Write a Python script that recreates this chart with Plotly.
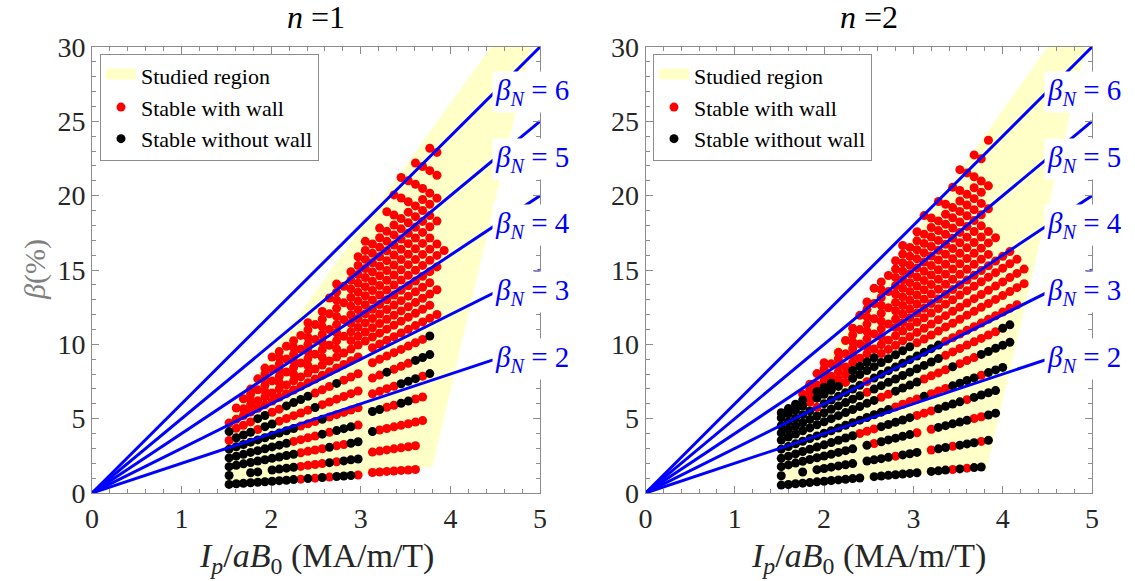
import plotly.graph_objects as go

FONT = "'Liberation Serif', 'DejaVu Serif', serif"
BLUE = "#0000ff"
RED = "#ff0000"
BLACK = "#000000"
YELLOW = "#ffffc8"
FRAME = "#8c8c8c"
TEXT = "#262626"

# Guide lines beta = beta_N * Ip/aB0
BETA_N = [2, 3, 4, 5, 6]
X_MAX = 5
Y_MAX = 30

# Studied region outlines (Ip/aB0, beta %)
N1_REGION_X = [1.48, 1.55, 4.45, 4.90, 3.80, 1.48]
N1_REGION_Y = [0.45, 5.6, 30.0, 30.0, 1.75, 0.45]
N2_REGION_X = [1.48, 1.50, 4.50, 4.93, 3.82, 1.48]
N2_REGION_Y = [0.40, 4.5, 30.0, 30.0, 1.60, 0.40]

# ---------------- n = 1 ----------------
# Scan rows on a shared Ip grid; flags: R = stable with wall, B = stable without wall, . = no case
N1_GRID_A = [1.53, 1.61, 1.69, 1.77, 1.85, 1.93, 2.01, 2.09, 2.17, 2.25,
             2.33, 2.41, 2.49, 2.57, 2.65, 2.73, 2.81, 2.89, 2.97]
N1_ROWS_A = [
    ([0.58, 0.62, 0.65, 0.69, 0.72, 0.76, 0.79, 0.83, 0.86, 0.90, 0.93, 0.97, 1.00, 1.04, 1.07, 1.11, 1.14, 1.18, 1.21],
     "BBBBBBBBBBRBRBRBBBR"),
    ([1.18, 1.24, 1.30, 1.36, 1.42, 1.49, 1.55, 1.61, 1.67, 1.73, 1.79, 1.86, 1.92, 1.98, 2.04, 2.10, 2.16, 2.23, 2.29],
     "B..BB.BBBBRRRRBRBBB"),
    ([1.77, 1.87, 1.96, 2.05, 2.15, 2.24, 2.33, 2.42, 2.52, 2.61, 2.70, 2.80, 2.89, 2.98, 3.07, 3.17, 3.26, 3.35, 3.45],
     "BBBBBBBBBBRRRRBRRBB"),
    ([2.36, 2.48, 2.60, 2.73, 2.85, 2.97, 3.10, 3.22, 3.34, 3.47, 3.59, 3.71, 3.83, 3.96, 4.08, 4.20, 4.33, 4.45, 4.57],
     "BBBBBBBBBRRRRBRBBBR"),
    ([2.95, 3.11, 3.26, 3.42, 3.57, 3.72, 3.88, 4.03, 4.19, 4.34, 4.50, 4.65, 4.81, 4.96, 5.11, 5.27, 5.42, 5.58, 5.73],
     "BBBBBBBBBBRRRBRRRRR"),
    ([3.53, 3.72, 3.90, 4.09, 4.27, 4.46, 4.64, 4.83, 5.01, 5.20, 5.38, 5.57, 5.75, 5.94, 6.12, 6.31, 6.49, 6.68, 6.86],
     "RBBBRBBRRRRRBRRRRRR"),
    ([4.13, 4.35, 4.56, 4.78, 5.00, 5.21, 5.43, 5.64, 5.86, 6.08, 6.29, 6.51, 6.72, 6.94, 7.16, 7.37, 7.59, 7.80, 8.02],
     "BRRRBBRRBBBBRRRBRRR"),
    ([4.71, 4.96, 5.21, 5.45, 5.70, 5.94, 6.19, 6.44, 6.68, 6.93, 7.18, 7.42, 7.67, 7.92, 8.16, 8.41, 8.65, 8.90, 9.15],
     "RRRRRRRRRRRRRRRRRRR"),
]

N1_GRID_B = [3.13, 3.21, 3.29, 3.37, 3.45, 3.53, 3.61, 3.69, 3.77, 3.85]
N1_ROWS_B = [
    ([1.38, 1.41, 1.45, 1.48, 1.52, 1.55, 1.58], "RRRRRRR"),
    ([2.75, 2.82, 2.90, 2.97, 3.04, 3.11, 3.18], "RRRRRRR"),
    ([4.13, 4.24, 4.34, 4.45, 4.55, 4.66, 4.77, 4.87], "BRRRRRRR"),
    ([5.48, 5.62, 5.76, 5.90, 6.04, 6.18, 6.32, 6.46], "BBRRBBRR"),
    ([6.67, 6.84, 7.01, 7.18, 7.35, 7.52, 7.69, 7.86, 8.03], "RRRRBBBRB"),
    ([7.73, 7.93, 8.13, 8.32, 8.52, 8.72, 8.92, 9.11, 9.31], "RRBRRRBBB"),
    ([8.76, 8.99, 9.21, 9.44, 9.66, 9.88, 10.11, 10.33, 10.56], "RRRRRRRRB"),
    ([9.77, 10.02, 10.27, 10.51, 10.76, 11.01, 11.26, 11.51, 11.76, 12.01], "RRRRRRRRRR"),
]

# High-beta cases, all stable with wall only
N1_CLOUD = [
    ([1.69, 1.77, 1.85, 1.93, 2.01, 2.09, 2.17, 2.25, 2.33, 2.41, 2.49, 2.57, 2.65, 2.73,
      2.81, 2.89, 2.97, 3.05, 3.13, 3.21, 3.29, 3.37, 3.45, 3.53, 3.61, 3.69, 3.77],
     [5.66, 5.93, 6.20, 6.47, 6.73, 7.00, 7.27, 7.54, 7.81, 8.07, 8.34, 8.61, 8.88, 9.15,
      9.41, 9.68, 9.95, 10.22, 10.49, 10.75, 11.02, 11.29, 11.56, 11.83, 12.09, 12.36, 12.63]),
    ([1.61, 1.77, 1.93, 2.09, 2.25, 2.41, 2.57, 2.73, 2.89, 2.97, 3.05, 3.13, 3.21, 3.29,
      3.37, 3.45, 3.53, 3.61, 3.69, 3.77, 3.85],
     [5.72, 6.28, 6.85, 7.42, 7.99, 8.56, 9.12, 9.69, 10.26, 10.54, 10.83, 11.11, 11.40, 11.68,
      11.96, 12.25, 12.53, 12.82, 13.10, 13.38, 13.67]),
    ([1.69, 1.77, 1.85, 1.93, 2.01, 2.09, 2.17, 2.25, 2.33, 2.41, 2.49, 2.57, 2.65, 2.73,
      2.81, 2.89, 2.97, 3.05, 3.13, 3.21, 3.29, 3.37, 3.45, 3.53, 3.61, 3.69, 3.77],
     [6.34, 6.64, 6.94, 7.24, 7.54, 7.84, 8.14, 8.44, 8.74, 9.04, 9.34, 9.64, 9.94, 10.24,
      10.54, 10.84, 11.14, 11.44, 11.74, 12.04, 12.34, 12.64, 12.94, 13.24, 13.54, 13.84, 14.14]),
    ([1.77, 1.93, 2.09, 2.25, 2.41, 2.57, 2.73, 2.89, 2.97, 3.05, 3.13, 3.21, 3.29, 3.37,
      3.45, 3.53, 3.61, 3.69, 3.77, 3.85],
     [6.99, 7.62, 8.26, 8.89, 9.52, 10.15, 10.78, 11.42, 11.73, 12.05, 12.36, 12.68, 13.00, 13.31,
      13.63, 13.94, 14.26, 14.58, 14.89, 15.21]),
    ([1.85, 1.93, 2.01, 2.09, 2.17, 2.25, 2.33, 2.41, 2.49, 2.57, 2.65, 2.73, 2.81, 2.89,
      2.97, 3.05, 3.13, 3.21, 3.29, 3.37, 3.45, 3.53, 3.61, 3.69, 3.77, 3.85, 3.93],
     [7.68, 8.01, 8.34, 8.67, 9.01, 9.34, 9.67, 10.00, 10.33, 10.67, 11.00, 11.33, 11.66, 11.99,
      12.33, 12.66, 12.99, 13.32, 13.65, 13.99, 14.32, 14.65, 14.98, 15.31, 15.65, 15.98, 16.31]),
    ([1.93, 2.09, 2.25, 2.41, 2.57, 2.73, 2.89, 2.97, 3.05, 3.13, 3.21, 3.29, 3.37, 3.45,
      3.53, 3.61, 3.69, 3.77, 3.85],
     [8.40, 9.09, 9.79, 10.48, 11.18, 11.88, 12.57, 12.92, 13.27, 13.62, 13.96, 14.31, 14.66, 15.01,
      15.36, 15.70, 16.05, 16.40, 16.75]),
    ([2.01, 2.09, 2.17, 2.25, 2.33, 2.41, 2.49, 2.57, 2.65, 2.73, 2.81, 2.89, 2.97, 3.05,
      3.13, 3.21, 3.29, 3.37, 3.45, 3.53, 3.61, 3.69, 3.77],
     [9.15, 9.51, 9.87, 10.24, 10.60, 10.97, 11.33, 11.69, 12.06, 12.42, 12.79, 13.15, 13.51, 13.88,
      14.24, 14.61, 14.97, 15.33, 15.70, 16.06, 16.43, 16.79, 17.15]),
    ([2.41, 2.57, 2.73, 2.89, 2.97, 3.05, 3.13, 3.21, 3.29, 3.37, 3.45, 3.53, 3.61, 3.69,
      3.77, 3.85],
     [11.45, 12.21, 12.97, 13.73, 14.11, 14.49, 14.87, 15.25, 15.63, 16.01, 16.39, 16.77, 17.15, 17.53,
      17.91, 18.29]),
    ([2.65, 2.73, 2.81, 2.89, 2.97, 3.05, 3.13, 3.21, 3.29, 3.37, 3.45, 3.53, 3.61, 3.69, 3.77],
     [13.12, 13.51, 13.91, 14.31, 14.70, 15.10, 15.49, 15.89, 16.29, 16.68, 17.08, 17.47, 17.87, 18.27, 18.66]),
    ([2.73, 2.89, 2.97, 3.05, 3.13, 3.21, 3.29, 3.37, 3.45, 3.53, 3.61, 3.69, 3.77, 3.85],
     [14.06, 14.88, 15.30, 15.71, 16.12, 16.53, 16.94, 17.36, 17.77, 18.18, 18.59, 19.00, 19.42, 19.83]),
    ([2.97, 3.05, 3.13, 3.21, 3.29, 3.37, 3.45, 3.53, 3.61, 3.69, 3.77],
     [15.89, 16.32, 16.75, 17.17, 17.60, 18.03, 18.46, 18.89, 19.31, 19.74, 20.17]),
    ([3.05, 3.21, 3.37, 3.53, 3.69, 3.85], [16.93, 17.82, 18.70, 19.59, 20.48, 21.37]),
    ([3.29, 3.45, 3.61, 3.77], [18.92, 19.84, 20.76, 21.68]),
    ([3.37, 3.53, 3.69, 3.85], [20.05, 21.00, 21.96, 22.91]),
    ([3.45, 3.61, 3.77], [21.22, 22.20, 23.19]),
]

# ---------------- n = 2 ----------------
N2_GRID = [1.52, 1.60, 1.68, 1.76, 1.84, 1.92, 2.00, 2.08, 2.16, 2.24, 2.32, 2.40,
           2.48, 2.56, 2.64, 2.72, 2.80, 2.88, 2.96, 3.04, 3.12, 3.20, 3.28, 3.36,
           3.44, 3.52, 3.60, 3.68, 3.76, 3.84, 3.92, 4.00, 4.08, 4.16, 4.24]
N2_ROWS = [
    ([0.53, 0.57, 0.62, 0.66, 0.70, 0.75, 0.79, 0.84, 0.88, 0.92, 0.97, 1.01, 1.05, 1.10, 1.14,
      1.19, 1.23, 1.27, 1.32, 1.36, 1.40, 1.45, 1.49, 1.54, 1.58, 1.62, 1.67, 1.71, 1.75],
     "BBBBBBBBBBBB.BBBBBBB.BBBRBRBB"),
    ([1.16, 1.24, 1.32, 1.41, 1.49, 1.57, 1.65, 1.74, 1.82, 1.90, 1.98, 2.07, 2.15, 2.23, 2.31,
      2.40, 2.48, 2.56, 2.64, 2.73, 2.81, 2.89, 2.97, 3.06, 3.14, 3.22, 3.30, 3.38, 3.47, 3.55],
     "B..B.BBBBBB.BBBBRBBB.RBBRBBBRB"),
    ([1.77, 1.89, 2.01, 2.13, 2.25, 2.37, 2.49, 2.61, 2.73, 2.85, 2.97, 3.09, 3.21, 3.33, 3.45,
      3.57, 3.69, 3.81, 3.93, 4.05, 4.17, 4.29, 4.41, 4.53, 4.65, 4.77, 4.89, 5.01, 5.13, 5.25, 5.37],
     "BBBBBBBBBBB.BRBBBBBR.RBBBBBRRBB"),
    ([2.33, 2.48, 2.63, 2.79, 2.94, 3.09, 3.24, 3.39, 3.55, 3.70, 3.85, 4.00, 4.15, 4.31, 4.46,
      4.61, 4.76, 4.91, 5.07, 5.22, 5.37, 5.52, 5.67, 5.83, 5.98, 6.13, 6.28, 6.43, 6.59, 6.74, 6.89],
     "BBBBBBBBBBBRRRBBBBBRRRBBBBRBBBB"),
    ([2.95, 3.13, 3.31, 3.48, 3.66, 3.84, 4.02, 4.19, 4.37, 4.55, 4.73, 4.90, 5.08, 5.26, 5.44,
      5.61, 5.79, 5.97, 6.15, 6.32, 6.50, 6.68, 6.86, 7.03, 7.21, 7.39, 7.57, 7.74, 7.92, 8.10,
      8.28, 8.45],
     "BBBBBBBBBBBBBBBBRRRRBRRRBBBBRBBB"),
    ([3.56, 3.77, 3.97, 4.18, 4.38, 4.59, 4.79, 5.00, 5.20, 5.41, 5.62, 5.82, 6.03, 6.23, 6.44,
      6.64, 6.85, 7.06, 7.26, 7.47, 7.67, 7.88, 8.08, 8.29, 8.49, 8.70, 8.91, 9.11, 9.32, 9.52,
      9.73, 9.93, 10.14],
     "BBBBBBBBBBBBBBRRBBBBRRRRBRRRBBBBB"),
    ([4.04, 4.27, 4.50, 4.72, 4.95, 5.18, 5.40, 5.63, 5.86, 6.08, 6.31, 6.54, 6.77, 6.99, 7.22,
      7.45, 7.67, 7.90, 8.13, 8.36, 8.58, 8.81, 9.04, 9.26, 9.49, 9.72, 9.95, 10.17, 10.40, 10.63,
      10.85, 11.08, 11.31],
     "BBBBBBBBBBBBRBBBBBBBBBBRRRRRRRRBB"),
    ([4.53, 4.78, 5.02, 5.27, 5.52, 5.76, 6.01, 6.25, 6.50, 6.75, 6.99, 7.24, 7.49, 7.73, 7.98,
      8.23, 8.47, 8.72, 8.97, 9.21, 9.46, 9.71, 9.95, 10.20, 10.44, 10.69, 10.94, 11.18, 11.43,
      11.68, 11.92, 12.17, 12.42, 12.66],
     "BBBBBRBBBBBBRBBBBBBBBBBRRRRRRRRRRR"),
    ([5.05, 5.32, 5.58, 5.85, 6.11, 6.38, 6.64, 6.91, 7.17, 7.44, 7.71, 7.97, 8.24, 8.50, 8.77,
      9.03, 9.30, 9.57, 9.83, 10.10, 10.36, 10.63, 10.89, 11.16, 11.42, 11.69, 11.96, 12.22,
      12.49, 12.75, 13.02, 13.28, 13.55, 13.81, 14.08],
     "BBBBRBBBBRBBBBBBBBBRRRRRRRRRRRRRRRR"),
    ([5.40, 5.68, 5.97, 6.25, 6.54, 6.82, 7.10, 7.39, 7.67, 7.96, 8.24, 8.52, 8.81, 9.09, 9.38,
      9.66, 9.94, 10.23, 10.51, 10.80, 11.08, 11.36, 11.65, 11.93, 12.22, 12.50, 12.78, 13.07,
      13.35, 13.64, 13.92, 14.20, 14.49, 14.77, 15.06],
     "BBBBRBBBRRBBBBRRRRRRRRRRRRRRRRRRRRR"),
]

N2_CLOUD = [
    ([1.76, 1.84, 1.92, 2.00, 2.08, 2.16, 2.24, 2.32, 2.40, 2.48, 2.56, 2.64, 2.72, 2.80, 2.88, 2.96,
      3.04, 3.12, 3.20, 3.28, 3.36, 3.44, 3.52, 3.60, 3.68, 3.76, 3.84, 3.92, 4.00, 4.08, 4.16],
     [6.65, 6.96, 7.26, 7.56, 7.86, 8.16, 8.47, 8.77, 9.07, 9.37, 9.68, 9.98, 10.28, 10.58, 10.89, 11.19,
      11.49, 11.79, 12.10, 12.40, 12.70, 13.00, 13.31, 13.61, 13.91, 14.21, 14.52, 14.82, 15.12, 15.42, 15.72]),
    ([1.84, 2.00, 2.16, 2.32, 2.48, 2.64, 2.80, 2.88, 2.96, 3.04, 3.12, 3.20, 3.28, 3.36, 3.44,
      3.52, 3.60, 3.68, 3.76, 3.84, 3.92, 4.00, 4.08],
     [7.32, 7.96, 8.60, 9.23, 9.87, 10.51, 11.14, 11.46, 11.78, 12.10, 12.42, 12.74, 13.05, 13.37, 13.69,
      14.01, 14.33, 14.65, 14.96, 15.28, 15.60, 15.92, 16.24]),
    ([1.92, 2.00, 2.08, 2.16, 2.24, 2.32, 2.40, 2.48, 2.56, 2.64, 2.72, 2.80, 2.88, 2.96, 3.04, 3.12,
      3.20, 3.28, 3.36, 3.44, 3.52, 3.60, 3.68, 3.76, 3.84],
     [8.03, 8.36, 8.69, 9.03, 9.36, 9.70, 10.03, 10.37, 10.70, 11.04, 11.37, 11.70, 12.04, 12.37, 12.71, 13.04,
      13.38, 13.71, 14.04, 14.38, 14.71, 15.05, 15.38, 15.72, 16.05]),
    ([2.00, 2.16, 2.32, 2.48, 2.64, 2.80, 2.88, 2.96, 3.04, 3.12, 3.20, 3.28, 3.36, 3.44, 3.52,
      3.60, 3.68, 3.76, 3.84, 3.92],
     [8.76, 9.46, 10.16, 10.86, 11.56, 12.26, 12.61, 12.96, 13.32, 13.67, 14.02, 14.37, 14.72, 15.07, 15.42,
      15.77, 16.12, 16.47, 16.82, 17.17]),
    ([2.24, 2.32, 2.40, 2.48, 2.56, 2.64, 2.72, 2.80, 2.88, 2.96, 3.04, 3.12, 3.20, 3.28, 3.36, 3.44,
      3.52, 3.60, 3.68, 3.76, 3.84],
     [10.26, 10.63, 10.99, 11.36, 11.72, 12.09, 12.46, 12.82, 13.19, 13.56, 13.92, 14.29, 14.66, 15.02, 15.39, 15.76,
      16.12, 16.49, 16.85, 17.22, 17.59]),
    ([2.32, 2.48, 2.64, 2.80, 2.88, 2.96, 3.04, 3.12, 3.20, 3.28, 3.36, 3.44, 3.52, 3.60, 3.68, 3.76],
     [11.09, 11.85, 12.62, 13.38, 13.77, 14.15, 14.53, 14.91, 15.30, 15.68, 16.06, 16.44, 16.83, 17.21, 17.59, 17.97]),
    ([2.40, 2.48, 2.56, 2.64, 2.72, 2.80, 2.88, 2.96, 3.04, 3.12, 3.20, 3.28, 3.36, 3.44, 3.52,
      3.60, 3.68, 3.76, 3.84],
     [11.95, 12.35, 12.75, 13.15, 13.55, 13.94, 14.34, 14.74, 15.14, 15.54, 15.94, 16.33, 16.73, 17.13, 17.53,
      17.93, 18.33, 18.72, 19.12]),
    ([2.48, 2.64, 2.80, 2.88, 2.96, 3.04, 3.12, 3.20, 3.28, 3.36, 3.44, 3.52, 3.60, 3.68, 3.76],
     [12.85, 13.68, 14.50, 14.92, 15.33, 15.75, 16.16, 16.58, 16.99, 17.40, 17.82, 18.23, 18.65, 19.06, 19.48]),
    ([2.56, 2.64, 2.72, 2.80, 2.88, 2.96, 3.04, 3.12, 3.20, 3.28, 3.36, 3.44, 3.52, 3.60, 3.68, 3.76, 3.84],
     [13.77, 14.20, 14.63, 15.06, 15.49, 15.92, 16.36, 16.79, 17.22, 17.65, 18.08, 18.51, 18.94, 19.37, 19.80,
      20.23, 20.66]),
    ([2.80, 2.88, 2.96, 3.04, 3.12, 3.20, 3.28, 3.36, 3.44, 3.52, 3.60, 3.68, 3.76],
     [15.62, 16.07, 16.52, 16.96, 17.41, 17.86, 18.30, 18.75, 19.20, 19.64, 20.09, 20.53, 20.98]),
    ([2.88, 3.04, 3.20, 3.36, 3.52, 3.68], [16.65, 17.57, 18.50, 19.42, 20.35, 21.27]),
    ([3.12, 3.28, 3.44, 3.60, 3.76], [18.66, 19.61, 20.57, 21.53, 22.48]),
    ([3.52, 3.68, 3.84], [21.75, 22.74, 23.73]),
]


def collect(grid_rows, cloud_rows):
    """Split flagged scan rows into red (with wall) and black (without wall) cases."""
    rx, ry, bx, by = [], [], [], []
    for grid, rows in grid_rows:
        for ys, flags in rows:
            for x, y, f in zip(grid, ys, flags):
                if f == "R":
                    rx.append(x)
                    ry.append(y)
                elif f == "B":
                    bx.append(x)
                    by.append(y)
    for xs, ys in cloud_rows:
        rx.extend(xs)
        ry.extend(ys)
    return rx, ry, bx, by


panels = [
    dict(xa="x", ya="y", legend="legend", region=(N1_REGION_X, N1_REGION_Y),
         pts=collect([(N1_GRID_A, N1_ROWS_A), (N1_GRID_B, N1_ROWS_B)], N1_CLOUD)),
    dict(xa="x2", ya="y2", legend="legend2", region=(N2_REGION_X, N2_REGION_Y),
         pts=collect([(N2_GRID, N2_ROWS)], N2_CLOUD)),
]

fig = go.Figure()
MARKER_SIZE = 9

for p in panels:
    rx, ry, bx, by = p["pts"]
    fig.add_trace(go.Scatter(
        x=p["region"][0], y=p["region"][1], xaxis=p["xa"], yaxis=p["ya"],
        mode="lines", fill="toself", fillcolor=YELLOW, line=dict(width=0, color=YELLOW),
        showlegend=False, hoverinfo="skip"))
    # legend swatch for the studied region (wide filled bar)
    fig.add_trace(go.Scatter(
        x=[None], y=[None], xaxis=p["xa"], yaxis=p["ya"],
        mode="lines", fill="toself", fillcolor=YELLOW, line=dict(width=18, color=YELLOW),
        name="Studied region", legend=p["legend"], hoverinfo="skip"))
    fig.add_trace(go.Scatter(
        x=rx, y=ry, xaxis=p["xa"], yaxis=p["ya"], mode="markers",
        marker=dict(size=MARKER_SIZE, color=RED, line=dict(width=0)),
        name="Stable with wall", legend=p["legend"]))
    fig.add_trace(go.Scatter(
        x=bx, y=by, xaxis=p["xa"], yaxis=p["ya"], mode="markers",
        marker=dict(size=MARKER_SIZE, color=BLACK, line=dict(width=0)),
        name="Stable without wall", legend=p["legend"]))
    for b in BETA_N:
        fig.add_trace(go.Scatter(
            x=[0, X_MAX], y=[0, b * X_MAX], xaxis=p["xa"], yaxis=p["ya"],
            mode="lines", line=dict(color=BLUE, width=3), showlegend=False, hoverinfo="skip"))

annotations = []
for xa, ya in [("x", "y"), ("x2", "y2")]:
    for b in BETA_N:
        annotations.append(dict(
            x=4.46, y=4.5 * b, xref=xa, yref=ya, xanchor="left", yanchor="middle",
            text="<i>β</i><sub><i>N</i></sub> = %d" % b, showarrow=False,
            font=dict(family=FONT, size=29, color=BLUE), bgcolor="white", borderpad=2))

for cx, label in [(0.224, "<i>n</i> =1"), (0.7768, "<i>n</i> =2")]:
    annotations.append(dict(x=cx, y=1.068, xref="paper", yref="paper", showarrow=False,
                            text=label, font=dict(family=FONT, size=32, color=BLACK),
                            xanchor="center", yanchor="middle"))
    annotations.append(dict(x=cx, y=-0.145, xref="paper", yref="paper", showarrow=False,
                            text="<i>I</i><sub><i>p</i></sub>/<i>aB</i><sub>0</sub> (MA/m/T)",
                            font=dict(family=FONT, size=34, color=TEXT),
                            xanchor="center", yanchor="middle"))
annotations.append(dict(x=-0.057, y=0.5, xref="paper", yref="paper", showarrow=False,
                        text="<i>β</i>(%)", textangle=-90,
                        font=dict(family=FONT, size=30, color="#7f7f7f"),
                        xanchor="center", yanchor="middle"))

axis_common = dict(showline=True, linecolor=FRAME, linewidth=1, mirror="ticks",
                   ticks="inside", ticklen=7, tickcolor=FRAME, showgrid=False,
                   zeroline=False, tickfont=dict(family=FONT, size=28, color=TEXT))
x_common = dict(axis_common, range=[0, X_MAX], tick0=0, dtick=1,
                minor=dict(ticks="inside", ticklen=4, dtick=0.2, tickcolor=FRAME, showgrid=False))
y_common = dict(axis_common, range=[0, Y_MAX], tick0=0, dtick=5,
                minor=dict(ticks="inside", ticklen=4, dtick=1, tickcolor=FRAME, showgrid=False))

legend_common = dict(font=dict(family=FONT, size=22, color=BLACK), bgcolor="white",
                     bordercolor="#8c8c8c", borderwidth=1, xanchor="left", yanchor="top",
                     y=0.985, tracegroupgap=0)

fig.update_layout(
    width=1135, height=581,
    margin=dict(l=92, r=43, t=47, b=88),
    paper_bgcolor="white", plot_bgcolor="white",
    font=dict(family=FONT, color=TEXT),
    xaxis=dict(x_common, domain=[0, 0.448], anchor="y"),
    yaxis=dict(y_common, anchor="x"),
    xaxis2=dict(x_common, domain=[0.5535, 1.0], anchor="y2"),
    yaxis2=dict(y_common, anchor="x2"),
    legend=dict(legend_common, x=0.008),
    legend2=dict(legend_common, x=0.561),
    annotations=annotations,
    showlegend=True,
)

fig.write_html("out.html")
